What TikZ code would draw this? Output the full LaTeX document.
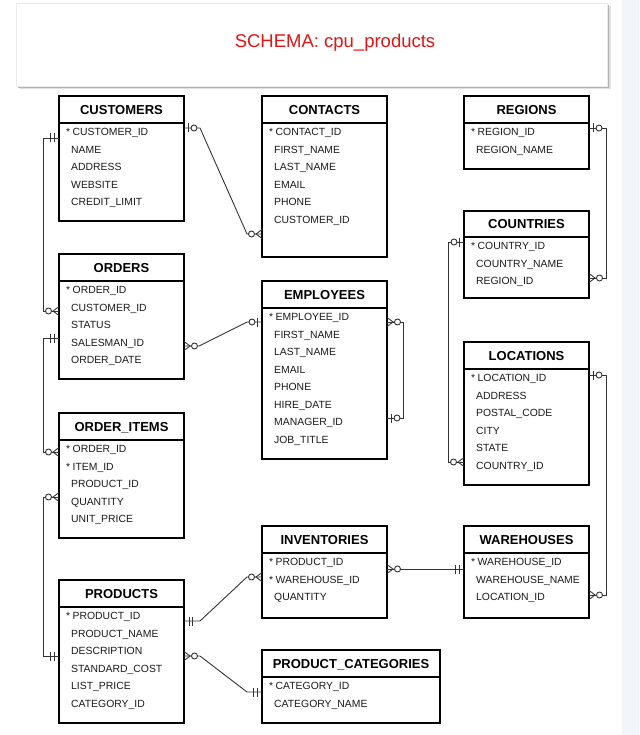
\documentclass[tikz,border=0pt]{standalone}
\usepackage{fontspec}
\setmainfont{Liberation Sans}
\usetikzlibrary{positioning,calc,shadows}
\definecolor{schemared}{RGB}{222,22,22}
\definecolor{bandblue}{RGB}{242,245,249}
\newcommand{\pkmark}{\hspace{1.5pt}\llap{*\hspace{2.5pt}}}

\begin{document}
\begin{tikzpicture}[
  x=1pt, y=-1pt,
  thead/.style={draw, line width=1.5pt, outer sep=0pt, inner sep=0pt, anchor=north west,
    minimum width=125pt, minimum height=27pt, text height=9.3pt, text depth=0pt,
    font=\fontsize{13}{15}\selectfont\bfseries},
  tbody/.style={draw, line width=1.5pt, outer sep=0pt, inner sep=0pt, minimum width=125pt},
  field/.style={anchor=base west, inner sep=0pt, text=black!90, font=\fontsize{10.4}{12}\selectfont},
  rel/.style={line width=0.9pt, black!80},
  mone/.pic={\draw[rel] (5,-4.5) -- (5,4.5) (8.5,-4.5) -- (8.5,4.5);},
  zone/.pic={\draw[rel] (4.5,-4.5) -- (4.5,4.5); \draw[rel, fill=white] (10,0) circle (3pt);},
  zmany/.pic={\draw[rel] (0,-4.5) -- (6,0) -- (0,4.5); \draw[rel, fill=white] (10.5,0) circle (3pt);},
  banner/.style={fill=white, draw=black!8, minimum width=591pt, minimum height=83pt,
    drop shadow={shadow xshift=3.5pt, shadow yshift=-3.5pt, fill=black!12, opacity=1},
    drop shadow={shadow xshift=2pt, shadow yshift=-2pt, fill=black!30, opacity=1}},
  title/.style={text=schemared, font=\fontsize{18.5}{20}\selectfont}
]
\useasboundingbox (0,0) rectangle (639,735);
\fill[bandblue] (622,0) rectangle (639,735);

\node[banner] (banner) at (311.5,44.5) {};
\node[title] (title) at (335,43) {SCHEMA: cpu\_products};

\node[thead] (cust) at (59,96) {CUSTOMERS};
\node[tbody, minimum height=98pt, below=0pt of cust] (cust-b) {};
\foreach \f [count=\i] in {\pkmark CUSTOMER\_ID, NAME, ADDRESS, WEBSITE, CREDIT\_LIMIT}
  \node[field] (cust-\i) at ($(cust-b.north west)+(12,{12.7+17.5*(\i-1)})$) {\f};

\node[thead] (cont) at (262,96) {CONTACTS};
\node[tbody, minimum height=134pt, below=0pt of cont] (cont-b) {};
\foreach \f [count=\i] in {\pkmark CONTACT\_ID, FIRST\_NAME, LAST\_NAME, EMAIL, PHONE, CUSTOMER\_ID}
  \node[field] (cont-\i) at ($(cont-b.north west)+(12,{12.7+17.5*(\i-1)})$) {\f};

\node[thead] (reg) at (464,96) {REGIONS};
\node[tbody, minimum height=46pt, below=0pt of reg] (reg-b) {};
\foreach \f [count=\i] in {\pkmark REGION\_ID, REGION\_NAME}
  \node[field] (reg-\i) at ($(reg-b.north west)+(12,{12.7+17.5*(\i-1)})$) {\f};

\node[thead, minimum height=26pt] (ctry) at (464,211) {COUNTRIES};
\node[tbody, minimum height=61pt, below=0pt of ctry] (ctry-b) {};
\foreach \f [count=\i] in {\pkmark COUNTRY\_ID, COUNTRY\_NAME, REGION\_ID}
  \node[field] (ctry-\i) at ($(ctry-b.north west)+(12,{12.7+17.5*(\i-1)})$) {\f};

\node[thead] (ord) at (59,254) {ORDERS};
\node[tbody, minimum height=98pt, below=0pt of ord] (ord-b) {};
\foreach \f [count=\i] in {\pkmark ORDER\_ID, CUSTOMER\_ID, STATUS, SALESMAN\_ID, ORDER\_DATE}
  \node[field] (ord-\i) at ($(ord-b.north west)+(12,{12.7+17.5*(\i-1)})$) {\f};

\node[thead] (emp) at (262,281) {EMPLOYEES};
\node[tbody, minimum height=151pt, below=0pt of emp] (emp-b) {};
\foreach \f [count=\i] in {\pkmark EMPLOYEE\_ID, FIRST\_NAME, LAST\_NAME, EMAIL, PHONE, HIRE\_DATE, MANAGER\_ID, JOB\_TITLE}
  \node[field] (emp-\i) at ($(emp-b.north west)+(12,{12.7+17.5*(\i-1)})$) {\f};

\node[thead] (loc) at (464,342) {LOCATIONS};
\node[tbody, minimum height=116pt, below=0pt of loc] (loc-b) {};
\foreach \f [count=\i] in {\pkmark LOCATION\_ID, ADDRESS, POSTAL\_CODE, CITY, STATE, COUNTRY\_ID}
  \node[field] (loc-\i) at ($(loc-b.north west)+(12,{12.7+17.5*(\i-1)})$) {\f};

\node[thead] (oi) at (59,413) {ORDER\_ITEMS};
\node[tbody, minimum height=98pt, below=0pt of oi] (oi-b) {};
\foreach \f [count=\i] in {\pkmark ORDER\_ID, \pkmark ITEM\_ID, PRODUCT\_ID, QUANTITY, UNIT\_PRICE}
  \node[field] (oi-\i) at ($(oi-b.north west)+(12,{12.7+17.5*(\i-1)})$) {\f};

\node[thead] (prod) at (59,580) {PRODUCTS};
\node[tbody, minimum height=116pt, below=0pt of prod] (prod-b) {};
\foreach \f [count=\i] in {\pkmark PRODUCT\_ID, PRODUCT\_NAME, DESCRIPTION, STANDARD\_COST, LIST\_PRICE, CATEGORY\_ID}
  \node[field] (prod-\i) at ($(prod-b.north west)+(12,{12.7+17.5*(\i-1)})$) {\f};

\node[thead] (inv) at (262,526) {INVENTORIES};
\node[tbody, minimum height=65pt, below=0pt of inv] (inv-b) {};
\foreach \f [count=\i] in {\pkmark PRODUCT\_ID, \pkmark WAREHOUSE\_ID, QUANTITY}
  \node[field] (inv-\i) at ($(inv-b.north west)+(12,{12.7+17.5*(\i-1)})$) {\f};

\node[thead] (wh) at (464,526) {WAREHOUSES};
\node[tbody, minimum height=65pt, below=0pt of wh] (wh-b) {};
\foreach \f [count=\i] in {\pkmark WAREHOUSE\_ID, WAREHOUSE\_NAME, LOCATION\_ID}
  \node[field] (wh-\i) at ($(wh-b.north west)+(12,{12.7+17.5*(\i-1)})$) {\f};

\node[thead, minimum width=178pt] (pc) at (262,650) {PRODUCT\_CATEGORIES};
\node[tbody, minimum width=178pt, minimum height=46pt, below=0pt of pc] (pc-b) {};
\foreach \f [count=\i] in {\pkmark CATEGORY\_ID, CATEGORY\_NAME}
  \node[field] (pc-\i) at ($(pc-b.north west)+(12,{12.7+17.5*(\i-1)})$) {\f};

\coordinate (cust-w) at ($(cust-b.north west)+(0,15)$);
\coordinate (cust-e) at ($(cust-b.north east)+(0,5)$);
\coordinate (cont-w) at ($(cont-b.north west)+(0,111)$);
\coordinate (reg-e) at ($(reg-b.north east)+(0,5)$);
\coordinate (ctry-w) at ($(ctry-b.north west)+(0,5)$);
\coordinate (ctry-e) at ($(ctry-b.north east)+(0,41)$);
\coordinate (ord-w1) at ($(ord-b.north west)+(0,30)$);
\coordinate (ord-w2) at ($(ord-b.north west)+(0,57)$);
\coordinate (ord-e) at ($(ord-b.north east)+(0,65)$);
\coordinate (emp-w) at ($(emp-b.north west)+(0,14)$);
\coordinate (emp-e1) at ($(emp-b.north east)+(0,14)$);
\coordinate (emp-e2) at ($(emp-b.north east)+(0,110)$);
\coordinate (loc-w) at ($(loc-b.north west)+(0,93)$);
\coordinate (loc-e) at ($(loc-b.north east)+(0,6)$);
\coordinate (oi-w1) at ($(oi-b.north west)+(0,12)$);
\coordinate (oi-w2) at ($(oi-b.north west)+(0,57)$);
\coordinate (prod-w) at ($(prod-b.north west)+(0,49)$);
\coordinate (prod-e1) at ($(prod-b.north east)+(0,14)$);
\coordinate (prod-e2) at ($(prod-b.north east)+(0,49)$);
\coordinate (inv-w) at ($(inv-b.north west)+(0,24)$);
\coordinate (inv-e) at ($(inv-b.north east)+(0,16)$);
\coordinate (wh-w) at ($(wh-b.north west)+(0,16)$);
\coordinate (wh-e) at ($(wh-b.north east)+(0,42)$);
\coordinate (pc-w) at ($(pc-b.north west)+(0,15)$);

\draw[rel] (cust-e) -- ++(16,0) -- ($(cont-w)+(-15,0)$) -- (cont-w);
\draw[rel] (cust-w) -- ++(-16,0) |- (ord-w1);
\draw[rel] (ord-w2) -- ++(-16,0) |- (oi-w1);
\draw[rel] (oi-w2) -- ++(-16,0) |- (prod-w);
\draw[rel] (ord-e) -- ++(15,0) -- ($(emp-w)+(-15,0)$) -- (emp-w);
\draw[rel] (emp-e1) -- ++(16,0) |- (emp-e2);
\draw[rel] (reg-e) -- ++(17,0) |- (ctry-e);
\draw[rel] (ctry-w) -- ++(-16,0) |- (loc-w);
\draw[rel] (loc-e) -- ++(17,0) |- (wh-e);
\draw[rel] (inv-e) -- (wh-w);
\draw[rel] (prod-e1) -- ++(16,0) -- ($(inv-w)+(-15,0)$) -- (inv-w);
\draw[rel] (prod-e2) -- ++(16,0) -- ($(pc-w)+(-15,0)$) -- (pc-w);

\pic at (cust-e) {zone};
\pic[xscale=-1] at (cont-w) {zmany};
\pic[xscale=-1] at (cust-w) {mone};
\pic[xscale=-1] at (ord-w1) {zmany};
\pic[xscale=-1] at (ord-w2) {mone};
\pic[xscale=-1] at (oi-w1) {zmany};
\pic[xscale=-1] at (oi-w2) {zmany};
\pic[xscale=-1] at (prod-w) {mone};
\pic at (ord-e) {zmany};
\pic[xscale=-1] at (emp-w) {zone};
\pic at (emp-e1) {zmany};
\pic at (emp-e2) {zone};
\pic at (reg-e) {zone};
\pic at (ctry-e) {zmany};
\pic[xscale=-1] at (ctry-w) {zone};
\pic[xscale=-1] at (loc-w) {zmany};
\pic at (loc-e) {zone};
\pic at (wh-e) {zmany};
\pic at (inv-e) {zmany};
\pic[xscale=-1] at (wh-w) {mone};
\pic at (prod-e1) {mone};
\pic[xscale=-1] at (inv-w) {zmany};
\pic at (prod-e2) {zmany};
\pic[xscale=-1] at (pc-w) {mone};
\end{tikzpicture}
\end{document}
